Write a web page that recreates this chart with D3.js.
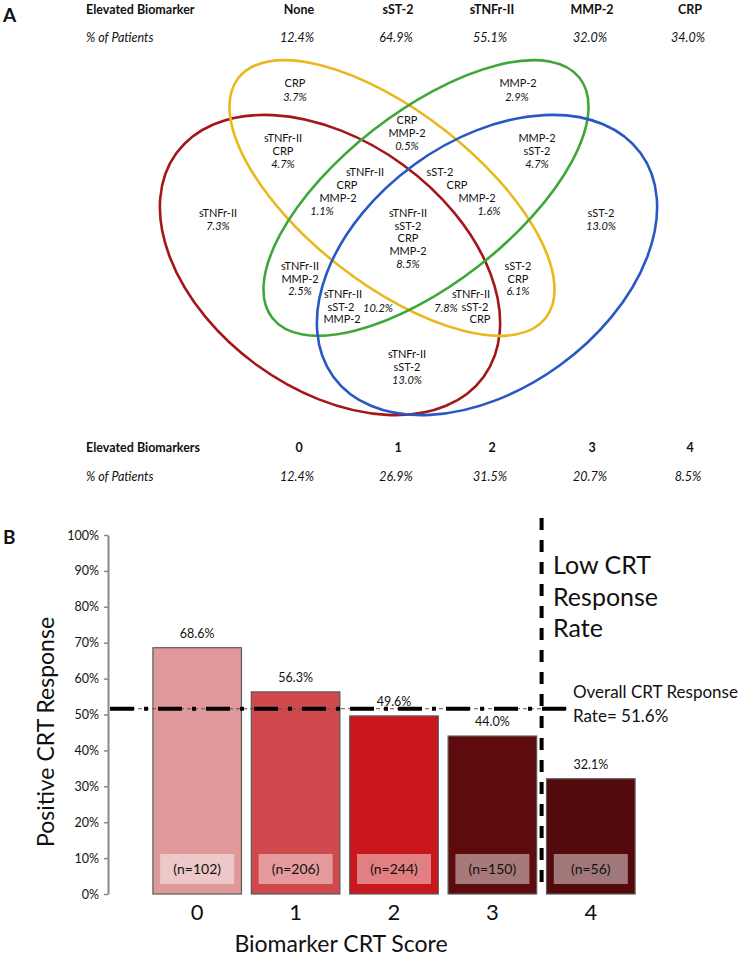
<!DOCTYPE html>
<html><head><meta charset="utf-8">
<script src="https://cdn.jsdelivr.net/npm/d3@7"></script>
<style>
body{margin:0;background:#fff}
svg{display:block}
text{font-family:Lato,"Open Sans",sans-serif;fill:#111}
</style>
</head><body>
<svg id="c" width="755" height="957"></svg>
<script>
// ---------- DATA ----------
const biomarkers = ["None", "sST-2", "sTNFr-II", "MMP-2", "CRP"];
const biomarkerPct = ["12.4%", "64.9%", "55.1%", "32.0%", "34.0%"];
const countLabels = ["0", "1", "2", "3", "4"];
const countPct = ["12.4%", "26.9%", "31.5%", "20.7%", "8.5%"];

const vennSets = ["sTNFr-II", "CRP", "MMP-2", "sST-2"];
const vennColors = ["#a3161a", "#e9b81c", "#3fa73a", "#2858c4"];

const regionSets = [
  ["CRP"], ["MMP-2"], ["CRP", "MMP-2"], ["sTNFr-II", "CRP"], ["MMP-2", "sST-2"],
  ["sTNFr-II", "CRP", "MMP-2"], ["sST-2", "CRP", "MMP-2"], ["sTNFr-II"],
  ["sTNFr-II", "sST-2", "CRP", "MMP-2"], ["sST-2"], ["sTNFr-II", "MMP-2"],
  ["sTNFr-II", "sST-2", "MMP-2"], ["sTNFr-II", "sST-2", "CRP"], ["sST-2", "CRP"],
  ["sTNFr-II", "sST-2"]
];
const regionPct = ["3.7%", "2.9%", "0.5%", "4.7%", "4.7%", "1.1%", "1.6%", "7.3%",
  "8.5%", "13.0%", "2.5%", "10.2%", "7.8%", "6.1%", "13.0%"];

const scores = [0, 1, 2, 3, 4];
const response = [68.6, 56.3, 49.6, 44.0, 32.1];
const nPatients = [102, 206, 244, 150, 56];
const overallRate = 51.6;
const yTicks = [0, 10, 20, 30, 40, 50, 60, 70, 80, 90, 100];
const barColors = ["#e0999b", "#d0494d", "#c9171d", "#5e0b0e", "#540a0c"];

// ---------- LAYOUT ----------
const svg = d3.select("#c");
const colX = [299, 398, 492, 592, 690];

// Panel labels
svg.append("text").attr("x", 3).attr("y", 22).attr("font-size", 19).attr("font-weight", 700).text("A");
svg.append("text").attr("x", 3).attr("y", 544).attr("font-size", 19).attr("font-weight", 700).text("B");

function tableRows(yHead, yPct, headTitle, heads, pcts) {
  svg.append("text").attr("x", 86).attr("y", yHead).attr("dy", "0.35em")
    .attr("font-size", 12.5).attr("font-weight", 700).text(headTitle);
  svg.append("text").attr("x", 86).attr("y", yPct).attr("dy", "0.35em")
    .attr("font-size", 12.5).attr("font-style", "italic").text("% of Patients");
  svg.selectAll(null).data(heads).join("text")
    .attr("x", (d, i) => colX[i]).attr("y", yHead).attr("dy", "0.35em")
    .attr("text-anchor", "middle").attr("font-size", 12.5).attr("font-weight", 700).text(d => d);
  svg.selectAll(null).data(pcts).join("text")
    .attr("x", (d, i) => colX[i] - 2).attr("y", yPct).attr("dy", "0.35em")
    .attr("text-anchor", "middle").attr("font-size", 12.5).attr("font-style", "italic").text(d => d);
}
tableRows(10, 38, "Elevated Biomarker", biomarkers, biomarkerPct);
tableRows(448, 477, "Elevated Biomarkers", countLabels, countPct);

// Venn ellipses (layout geometry)
const ellipseGeom = [
  {cx: 330, cy: 265, rx: 190, ry: 124, rot: 36},
  {cx: 392, cy: 198, rx: 195, ry: 86, rot: 38},
  {cx: 426, cy: 198, rx: 195, ry: 86, rot: -38},
  {cx: 487, cy: 265, rx: 190, ry: 124, rot: -36}
];
svg.append("g").selectAll("ellipse").data(vennSets).join("ellipse")
  .attr("cx", (d, i) => ellipseGeom[i].cx).attr("cy", (d, i) => ellipseGeom[i].cy)
  .attr("rx", (d, i) => ellipseGeom[i].rx).attr("ry", (d, i) => ellipseGeom[i].ry)
  .attr("transform", (d, i) => `rotate(${ellipseGeom[i].rot},${ellipseGeom[i].cx},${ellipseGeom[i].cy})`)
  .attr("fill", "none").attr("stroke", (d, i) => vennColors[i]).attr("stroke-width", 2.6);

// Region label positions: one [x,y] per line; last entry is the percentage
const regionPos = [
  [[295, 83], [295, 97]],
  [[518, 83], [517, 97]],
  [[407, 120], [407, 133], [407, 146]],
  [[283, 138], [283, 151], [283, 164]],
  [[537, 138], [537, 151], [537, 164]],
  [[365, 172], [347, 185], [338, 198], [322, 211]],
  [[440, 172], [457, 185], [477, 198], [489, 211]],
  [[218, 213], [218, 226]],
  [[408, 213], [408, 226], [408, 238], [408, 251], [408, 264]],
  [[601, 213], [601, 226]],
  [[300, 266], [300, 279], [300, 291]],
  [[343, 294], [341, 307], [342, 319], [378, 308]],
  [[471, 294], [475, 307], [480, 319], [446, 308]],
  [[518, 266], [518, 279], [518, 291]],
  [[407, 354], [407, 367], [407, 380]]
];
const vg = svg.append("g");
regionSets.forEach((sets, r) => {
  const lines = sets.concat([regionPct[r]]);
  lines.forEach((t, k) => {
    const isPct = k === lines.length - 1;
    vg.append("text").attr("x", regionPos[r][k][0]).attr("y", regionPos[r][k][1])
      .attr("dy", "0.35em").attr("text-anchor", "middle").attr("font-size", 11)
      .attr("font-style", isPct ? "italic" : "normal").text(t);
  });
});

// ---------- PANEL B ----------
const x = d3.scaleBand().domain(scores).range([148, 640]).paddingInner(0.1).paddingOuter(0.05);
const y = d3.scaleLinear().domain([0, 100]).range([894, 535]);

const yAxis = svg.append("g").attr("transform", "translate(108,0)")
  .call(d3.axisLeft(y).tickValues(yTicks).tickFormat(d => d + "%").tickSize(4).tickSizeOuter(0));
yAxis.select(".domain").attr("stroke", "#8a8a8a").attr("stroke-width", 2);
yAxis.selectAll(".tick line").attr("stroke", "#8a8a8a").attr("stroke-width", 1.5);
yAxis.selectAll(".tick text").attr("font-family", "Lato, sans-serif").attr("font-size", 12.5)
  .attr("fill", "#111").attr("x", -9);

// bars
svg.append("g").selectAll("rect").data(scores).join("rect")
  .attr("x", d => x(d)).attr("width", x.bandwidth())
  .attr("y", (d, i) => y(response[i])).attr("height", (d, i) => y(0) - y(response[i]))
  .attr("fill", (d, i) => barColors[i]).attr("stroke", "#5a5a5a").attr("stroke-width", 1.2);

// value labels
svg.append("g").selectAll("text").data(scores).join("text")
  .attr("x", d => x(d) + x.bandwidth() / 2).attr("y", (d, i) => y(response[i]) - 10)
  .attr("text-anchor", "middle").attr("font-size", 12.5)
  .text((d, i) => response[i].toFixed(1) + "%");

// n boxes
const nb = svg.append("g");
nb.selectAll("rect").data(scores).join("rect")
  .attr("x", d => x(d) + x.bandwidth() / 2 - 37).attr("width", 74)
  .attr("y", y(0) - 40).attr("height", 30)
  .attr("fill", "#fff").attr("fill-opacity", 0.45);
nb.selectAll("text").data(scores).join("text")
  .attr("x", d => x(d) + x.bandwidth() / 2).attr("y", y(0) - 25).attr("dy", "0.35em")
  .attr("text-anchor", "middle").attr("font-size", 14).attr("fill", "#1a1a1a")
  .text((d, i) => "(n=" + nPatients[i] + ")");

// x tick labels
svg.append("g").selectAll("text").data(scores).join("text")
  .attr("x", d => x(d) + x.bandwidth() / 2).attr("y", 920)
  .attr("text-anchor", "middle").attr("font-size", 22).text(d => d);

// axis titles
svg.append("text").attr("x", 341).attr("y", 952).attr("text-anchor", "middle")
  .attr("font-size", 23).text("Biomarker CRT Score");
svg.append("text").attr("transform", "translate(54,732) rotate(-90)").attr("text-anchor", "middle")
  .attr("font-size", 23).text("Positive CRT Response");

// overall response line
const yr = y(overallRate);
svg.append("line").attr("x1", 110).attr("x2", 567).attr("y1", yr).attr("y2", yr)
  .attr("stroke", "#555").attr("stroke-width", 1).attr("stroke-dasharray", "4,3");
svg.append("line").attr("x1", 110).attr("x2", 567).attr("y1", yr).attr("y2", yr)
  .attr("stroke", "#000").attr("stroke-width", 4).attr("stroke-dasharray", "24,10,4,10");

// vertical divider between score 3 and 4
const xv = (x(3) + x.bandwidth() + x(4)) / 2;
svg.append("line").attr("x1", xv).attr("x2", xv).attr("y1", 518).attr("y2", 884)
  .attr("stroke", "#000").attr("stroke-width", 4).attr("stroke-dasharray", "12,10");

// annotations
["Low CRT", "Response", "Rate"].forEach((t, i) => {
  svg.append("text").attr("x", 553).attr("y", 574 + i * 31.5).attr("font-size", 25).text(t);
});
svg.append("text").attr("x", 573).attr("y", 698).attr("font-size", 17).text("Overall CRT Response");
svg.append("text").attr("x", 573).attr("y", 722).attr("font-size", 17).text("Rate= " + overallRate + "%");
</script>
</body></html>
